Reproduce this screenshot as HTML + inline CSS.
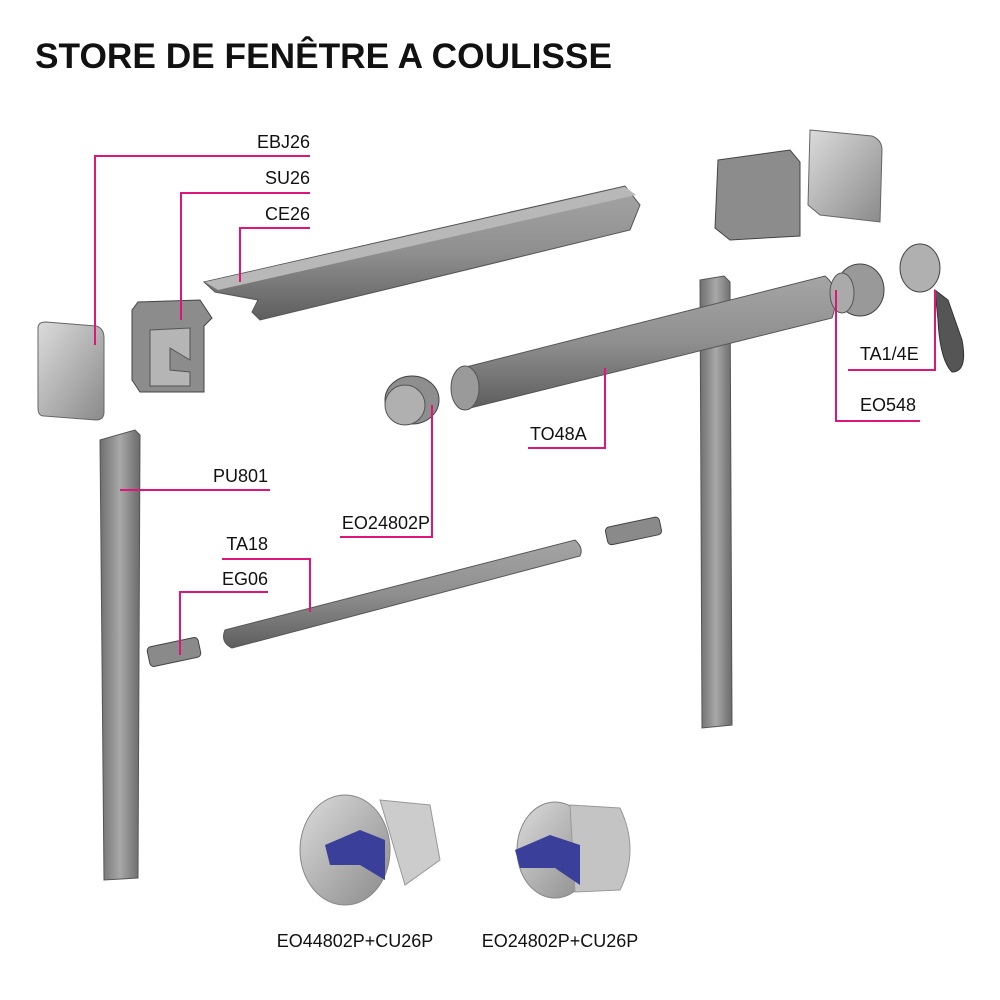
<!DOCTYPE html>
<html><head><meta charset="utf-8"><style>
html,body{margin:0;padding:0;background:#fff}
svg{display:block}
text{font-family:"Liberation Sans",Arial,sans-serif}
</style></head><body>
<svg width="1000" height="1000" viewBox="0 0 1000 1000" xmlns="http://www.w3.org/2000/svg">
<defs>
<linearGradient id="gv" x1="0" y1="0" x2="1" y2="0"><stop offset="0" stop-color="#6f6f6f"/><stop offset=".5" stop-color="#a8a8a8"/><stop offset="1" stop-color="#6a6a6a"/></linearGradient>
<linearGradient id="gt" x1="0" y1="0" x2="0" y2="1"><stop offset="0" stop-color="#a5a5a5"/><stop offset=".5" stop-color="#8f8f8f"/><stop offset="1" stop-color="#5e5e5e"/></linearGradient>
<linearGradient id="gc" x1="0" y1="0" x2="1" y2="1"><stop offset="0" stop-color="#dcdcdc"/><stop offset="1" stop-color="#8a8a8a"/></linearGradient>
</defs>
<text x="35" y="68" font-size="35" font-weight="bold" fill="#111" textLength="577" lengthAdjust="spacingAndGlyphs">STORE DE FENÊTRE A COULISSE</text>

<path d="M38 328 Q38 322 46 322 L96 326 Q104 328 104 338 L104 412 Q104 420 96 420 L44 416 Q38 416 38 408Z" fill="url(#gc)" stroke="#666"/>
<path d="M138 302 L200 300 L212 318 L204 326 L204 392 L140 392 L132 380 L132 310Z" fill="#8c8c8c" stroke="#444"/>
<path d="M150 330 L190 328 L190 360 L170 348 L170 370 L190 372 L190 386 L150 386Z" fill="#b5b5b5" stroke="#555"/>
<path d="M204 282 L625 186 L640 205 L630 230 L260 320 L252 312 L258 300 L215 292Z" fill="url(#gt)" stroke="#555"/>
<path d="M205 282 L625 187 L636 195 L218 290Z" fill="#b8b8b8"/>
<path d="M100 440 L135 430 L140 435 L138 878 L104 880Z" fill="url(#gv)" stroke="#555"/>
<path d="M700 280 L724 276 L730 282 L732 725 L702 728Z" fill="url(#gv)" stroke="#555"/>
<path d="M462 368 L825 276 Q842 290 832 318 L470 408Z" fill="url(#gt)" stroke="#555"/>
<ellipse cx="465" cy="388" rx="14" ry="22" fill="#9a9a9a" stroke="#555"/>
<ellipse cx="412" cy="400" rx="27" ry="24" fill="#8e8e8e" stroke="#444"/>
<ellipse cx="405" cy="405" rx="20" ry="20" fill="#b0b0b0" stroke="#555"/>
<path d="M225 630 L575 540 Q584 548 580 556 L232 648 Q220 642 225 630Z" fill="url(#gt)" stroke="#555"/>
<rect x="148" y="642" width="52" height="20" rx="4" fill="#8a8a8a" stroke="#444" transform="rotate(-12 174 652)"/>
<rect x="606" y="522" width="55" height="18" rx="4" fill="#8a8a8a" stroke="#444" transform="rotate(-12 633 531)"/>
<path d="M718 160 L790 150 L800 162 L800 236 L730 240 L715 228Z" fill="#8c8c8c" stroke="#444"/>
<path d="M810 130 L872 136 Q882 140 882 150 L880 222 L820 215 L808 205Z" fill="url(#gc)" stroke="#666"/>
<ellipse cx="860" cy="290" rx="24" ry="26" fill="#999" stroke="#444"/>
<ellipse cx="842" cy="293" rx="12" ry="20" fill="#aaa" stroke="#555"/>
<ellipse cx="920" cy="268" rx="20" ry="24" fill="#b0b0b0" stroke="#444"/>
<path d="M935 290 L948 300 L962 340 Q968 372 952 372 Q940 360 938 320Z" fill="#555" stroke="#333"/>
<ellipse cx="345" cy="850" rx="45" ry="55" fill="url(#gc)" stroke="#888"/>
<path d="M380 800 L430 805 L440 860 L405 885Z" fill="#ccc" stroke="#999"/>
<path d="M325 845 L360 830 L385 840 L385 880 L360 865 L330 865Z" fill="#3a3f9a"/>
<ellipse cx="555" cy="850" rx="38" ry="48" fill="url(#gc)" stroke="#888"/>
<path d="M570 805 L620 808 Q640 850 620 890 L575 892Z" fill="#c4c4c4" stroke="#999"/>
<path d="M515 850 L550 835 L580 845 L580 885 L555 868 L520 868Z" fill="#3a3f9a"/>

<g stroke="#e0157a" stroke-width="2" fill="none">
<polyline points="310,156 95,156 95,345"/>
<polyline points="310,193 181,193 181,320"/>
<polyline points="310,228 240,228 240,282"/>
<polyline points="120,490 270,490"/>
<polyline points="340,537 432,537 432,405"/>
<polyline points="222,559 310,559 310,612"/>
<polyline points="268,592 180,592 180,655"/>
<polyline points="528,448 605,448 605,368"/>
<polyline points="848,370 935,370 935,290"/>
<polyline points="920,421 836,421 836,290"/>
</g>
<g font-size="18" fill="#111">
<text x="310" y="148" text-anchor="end">EBJ26</text>
<text x="310" y="184" text-anchor="end">SU26</text>
<text x="310" y="220" text-anchor="end">CE26</text>
<text x="268" y="482" text-anchor="end">PU801</text>
<text x="430" y="529" text-anchor="end">EO24802P</text>
<text x="268" y="550" text-anchor="end">TA18</text>
<text x="268" y="585" text-anchor="end">EG06</text>
<text x="530" y="440">TO48A</text>
<text x="860" y="360">TA1/4E</text>
<text x="860" y="411">EO548</text>
<text x="355" y="947" text-anchor="middle">EO44802P+CU26P</text>
<text x="560" y="947" text-anchor="middle">EO24802P+CU26P</text>
</g>
</svg>
</body></html>
